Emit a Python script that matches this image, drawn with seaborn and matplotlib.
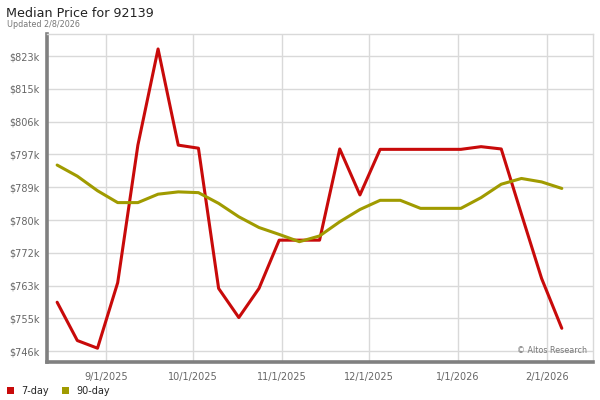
import matplotlib
matplotlib.use("Agg")
import matplotlib.pyplot as plt
from matplotlib.patches import Patch
import pandas as pd
import seaborn as sns

# weekly data points (values in $k)
dates = ["2025-08-15", "2025-08-22", "2025-08-29", "2025-09-05", "2025-09-12",
         "2025-09-19", "2025-09-26", "2025-10-03", "2025-10-10", "2025-10-17",
         "2025-10-24", "2025-10-31", "2025-11-07", "2025-11-14", "2025-11-21",
         "2025-11-28", "2025-12-05", "2025-12-12", "2025-12-19", "2025-12-26",
         "2026-01-02", "2026-01-09", "2026-01-16", "2026-01-23", "2026-01-30",
         "2026-02-06"]
price_7day = [758.9, 748.9, 746.9, 764.0, 799.9, 825.0, 799.9, 799.1, 762.5, 754.9,
              762.5, 775.1, 775.1, 775.1, 798.9, 786.9, 798.8, 798.8, 798.8, 798.8,
              798.8, 799.5, 798.9, 781.9, 765.1, 752.1]
price_90day = [794.7, 791.8, 788.0, 784.9, 784.9, 787.1, 787.7, 787.5, 784.7, 781.2,
               778.4, 776.6, 774.7, 776.2, 779.9, 783.1, 785.5, 785.5, 783.4, 783.4,
               783.4, 786.2, 789.7, 791.2, 790.3, 788.6]

series_names = ["7-day", "90-day"]
colors = {"7-day": "#c80a0a", "90-day": "#a09b00"}

ytick_vals = [746.1, 754.66, 763.22, 771.78, 780.34, 788.9, 797.46, 806.02, 814.58, 823.14]
ytick_labels = ["$746k", "$755k", "$763k", "$772k", "$780k", "$789k",
                "$797k", "$806k", "$815k", "$823k"]
xtick_dates = ["2025-09-01", "2025-10-01", "2025-11-01", "2025-12-01", "2026-01-01", "2026-02-01"]
xtick_labels = ["9/1/2025", "10/1/2025", "11/1/2025", "12/1/2025", "1/1/2026", "2/1/2026"]

df = pd.DataFrame({"date": pd.to_datetime(dates), "7-day": price_7day, "90-day": price_90day})
long = df.melt(id_vars="date", var_name="series", value_name="price")

sns.set_style("white")
plt.rcParams["font.family"] = ["DejaVu Sans"]

fig = plt.figure(figsize=(6, 4), dpi=100)
ax = fig.add_axes([0.078, 0.095, 0.91, 0.819])

sns.lineplot(data=long, x="date", y="price", hue="series", hue_order=series_names,
             palette=colors, linewidth=2.2, legend=False, ax=ax)

ax.set_xlim(pd.Timestamp("2025-08-11 10:00"), pd.Timestamp("2026-02-16 18:00"))
ax.set_ylim(743.3, 828.8)
ax.set_yticks(ytick_vals)
ax.set_yticklabels(ytick_labels)
ax.set_xticks(pd.to_datetime(xtick_dates))
ax.set_xticklabels(xtick_labels)
ax.set_xlabel("")
ax.set_ylabel("")

ax.grid(True, color="#d9d9d9", linewidth=1)
ax.set_axisbelow(True)
ax.tick_params(axis="both", length=0, labelsize=7, colors="#666666")
ax.tick_params(axis="y", pad=5)
ax.tick_params(axis="x", pad=7)

for side in ["left", "bottom"]:
    ax.spines[side].set_color("#808080")
    ax.spines[side].set_linewidth(2.6)
for side in ["top", "right"]:
    ax.spines[side].set_color("#d9d9d9")
    ax.spines[side].set_linewidth(1)

fig.text(0.01, 0.967, "Median Price for 92139", fontsize=9.2, color="#222222", va="center")
fig.text(0.012, 0.938, "Updated 2/8/2026", fontsize=5.8, color="#777777", va="center")
ax.text(0.99, 0.035, "\u00a9 Altos Research", transform=ax.transAxes, fontsize=5.8,
        color="#777777", ha="right", va="center")

handles = [Patch(facecolor=colors[s], edgecolor="none", label=s) for s in series_names]
fig.legend(handles=handles, loc="lower left", bbox_to_anchor=(-0.003, -0.012), ncol=2,
           frameon=False, fontsize=7, handlelength=0.7, handleheight=0.7,
           handletextpad=0.8, columnspacing=1.3)

fig.savefig("out.png", dpi=100)
